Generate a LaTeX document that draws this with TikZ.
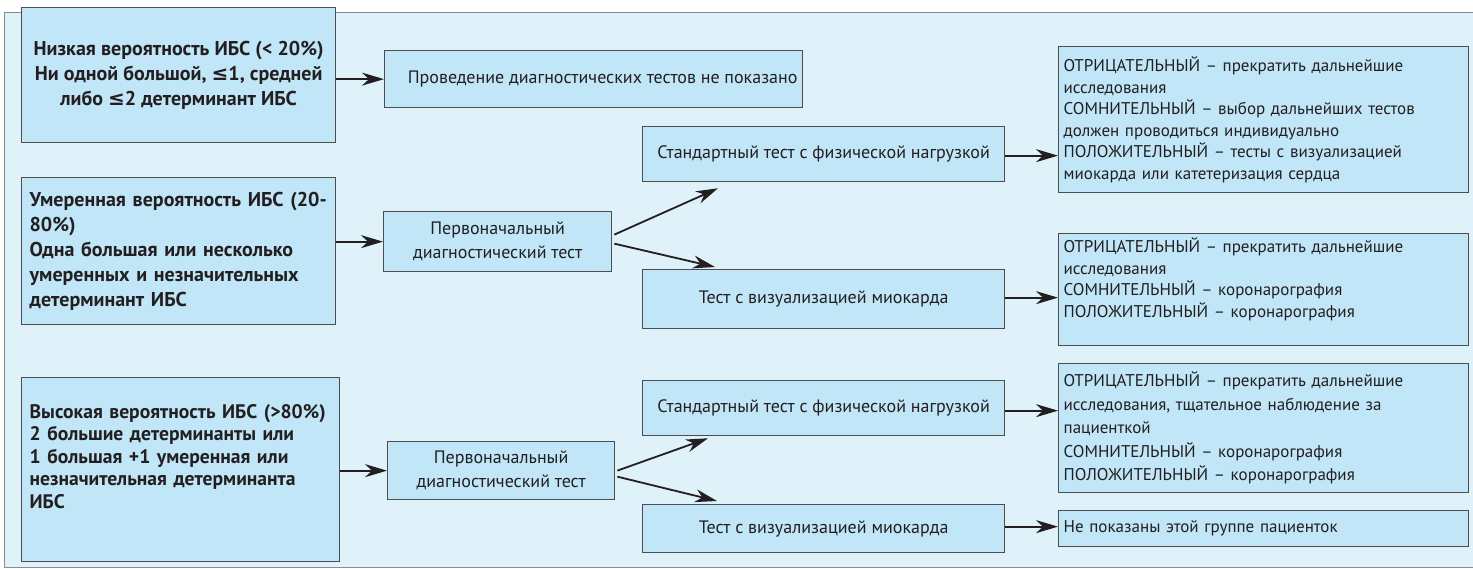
\documentclass[tikz,border=0pt]{standalone}
\usepackage{fontspec}
\setmainfont{PT Sans}
\newfontfamily\symfont{DejaVu Sans}
\usetikzlibrary{arrows.meta,calc}
\definecolor{framefill}{HTML}{DFF2FA}
\definecolor{frameline}{HTML}{8A8C8E}
\definecolor{boxfill}{HTML}{C0E6F7}
\definecolor{boxline}{HTML}{4D4D4F}
\definecolor{inkc}{HTML}{231F20}
\newcommand{\myle}{{\symfont\bfseries ≤}}
\begin{document}
\begin{tikzpicture}[x=1pt,y=-1pt,
  box/.style={draw=boxline, line width=1.3pt, fill=boxfill, inner sep=0pt,
    text=inkc, anchor=north west},
  leftbig/.style={box, font=\fontsize{20}{25}\selectfont\bfseries},
  midbox/.style={box, align=center, font=\fontsize{18}{24}\selectfont},
  resbox/.style={box, align=left, font=\fontsize{17}{21.5}\selectfont},
  arr/.style={draw=inkc, line width=1.8pt,
    -{Stealth[length=22pt,width=13pt,inset=7pt]}}
]
\useasboundingbox (0,0) rectangle (1473,569);
\draw[fill=framefill, draw=frameline, line width=1pt] (4,13) rectangle (1490,567);

% left column
\node[leftbig, align=center, minimum width=314pt, minimum height=135pt] (a1) at (21,7)
  {Низкая вероятность ИБС (< 20\%)\\ Ни одной большой, \myle1, средней\\ либо \myle2 детерминант ИБС};
\node[leftbig, align=left, text width=298pt, inner xsep=8pt, minimum width=314pt,
  minimum height=147pt] (a2) at (21,177)
  {Умеренная вероятность ИБС (20-\\80\%)\\Одна большая или несколько\\умеренных и незначительных\\детерминант ИБС};
\node[leftbig, align=left, text width=302pt, inner xsep=8pt, minimum width=318pt,
  minimum height=184pt, font=\fontsize{19.6}{22.5}\selectfont\bfseries] (a3) at (21,377)
  {\mbox{Высокая вероятность ИБС (>80\%)}\\2 большие детерминанты или\\1 большая +1 умеренная или\\незначительная детерминанта\\ИБС\\[-2pt]\strut};

% second column
\node[midbox, minimum width=418pt, minimum height=57pt] (b1) at (384,50)
  {\hspace*{18pt}Проведение диагностических тестов не показано};
\node[midbox, minimum width=228pt, minimum height=60pt] (c2) at (383,211)
  {Первоначальный\\диагностический тест};
\node[midbox, minimum width=227pt, minimum height=58pt] (c3) at (387,441)
  {Первоначальный\\диагностический тест};

% third column
\node[midbox, minimum width=362pt, minimum height=55pt] (d2a) at (642,126)
  {Стандартный тест с физической нагрузкой};
\node[midbox, minimum width=362pt, minimum height=59pt] (d2b) at (642,269)
  {Тест с визуализацией миокарда};
\node[midbox, minimum width=362pt, minimum height=55pt] (d3a) at (642,380)
  {Стандартный тест с физической нагрузкой};
\node[midbox, minimum width=362pt, minimum height=48pt] (d3b) at (642,504)
  {Тест с визуализацией миокарда};

% results column
\node[resbox, text width=400pt, inner xsep=5pt, minimum width=410pt, minimum height=146pt] (e2a) at (1058,46)
  {ОТРИЦАТЕЛЬНЫЙ – прекратить дальнейшие\\исследования\\СОМНИТЕЛЬНЫЙ – выбор дальнейших тестов\\должен проводиться индивидуально\\ПОЛОЖИТЕЛЬНЫЙ – тесты с визуализацией\\миокарда или катетеризация сердца};
\node[resbox, text width=400pt, inner xsep=5pt, minimum width=410pt, minimum height=112pt] (e2b) at (1058,233)
  {ОТРИЦАТЕЛЬНЫЙ – прекратить дальнейшие\\исследования\\СОМНИТЕЛЬНЫЙ – коронарография\\ПОЛОЖИТЕЛЬНЫЙ – коронарография\\[-4pt]\strut};
\node[resbox, text width=400pt, inner xsep=5pt, minimum width=410pt, minimum height=129pt,
  font=\fontsize{17}{23.5}\selectfont] (e3a) at (1058,363)
  {ОТРИЦАТЕЛЬНЫЙ – прекратить дальнейшие\\исследования, тщательное наблюдение за\\пациенткой\\СОМНИТЕЛЬНЫЙ – коронарография\\ПОЛОЖИТЕЛЬНЫЙ – коронарография};
\node[resbox, text width=400pt, inner xsep=5pt, minimum width=410pt, minimum height=36pt] (e3b) at (1058,510)
  {Не показаны этой группе пациенток};

% connectors
\draw[arr] (a1.east |- b1.west) -- (b1.west);
\draw[arr] (a2.east |- c2.west) -- (c2.west);
\draw[arr] (a3.east |- c3.west) -- (c3.west);

\draw[arr] ($(c2.east)+(2,-7)$) -- ($(d2a.south west)+(76,6)$);
\draw[arr] ($(c2.east)+(2,2)$) -- ($(d2b.north west)+(73,-2)$);
\draw[arr] ($(c3.east)+(2,0)$) -- ($(d3a.south west)+(66,2)$);
\draw[arr] ($(c3.east)+(2,6)$) -- ($(d3b.north west)+(75,-3)$);

\draw[arr] ($(d2a.east)+(0,1.5)$) -- ($(d2a.east -| e2a.west)+(0,1.5)$);
\draw[arr] ($(d2b.east)+(0,-1.5)$) -- ($(d2b.east -| e2b.west)+(0,-1.5)$);
\draw[arr] ($(d3a.east)+(0,2.5)$) -- ($(d3a.east -| e3a.west)+(0,2.5)$);
\draw[arr] ($(d3b.east)+(0,-2)$) -- ($(d3b.east -| e3b.west)+(0,-2)$);
\end{tikzpicture}
\end{document}
